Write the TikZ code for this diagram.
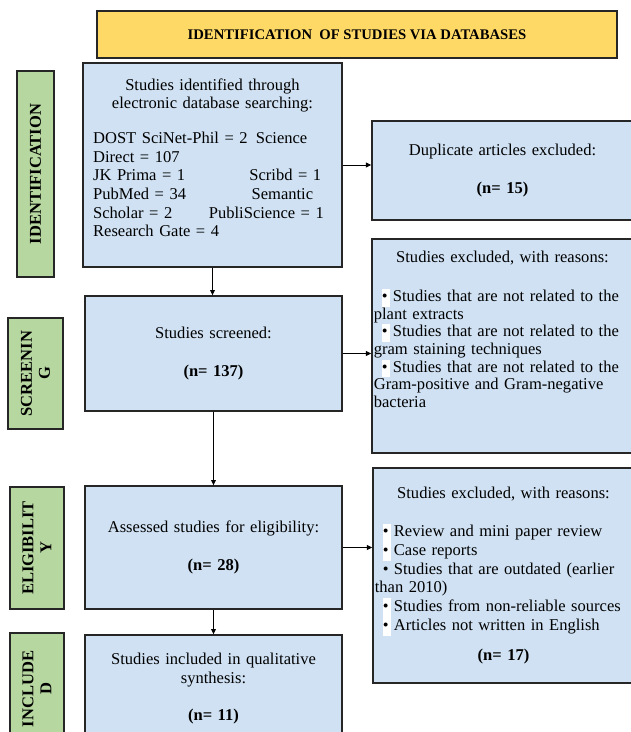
\documentclass[tikz,border=0pt]{standalone}
\usepackage{fontspec}
\setmainfont{Liberation Serif}
\usetikzlibrary{arrows.meta}
\definecolor{boxblue}{HTML}{CFE1F3}
\definecolor{stagegreen}{HTML}{B7D7A0}
\definecolor{headgold}{HTML}{FFD966}
\newcommand{\wbul}{\hspace*{6pt}{\setlength{\fboxsep}{0pt}\colorbox{white}{\strut\textbullet\hspace{1.5pt}}}\hspace{2.5pt}}
\newcommand{\pbul}{\hspace*{6pt}\textbullet\hspace{4pt}}
\newcommand{\tabfill}{\hspace{0pt plus 1filll}}
\begin{document}
\begin{tikzpicture}[x=0.75pt,y=-0.75pt,
  flowbox/.style={draw=black!85,line width=1pt,fill=boxblue,inner ysep=0pt,
    font=\fontsize{12.4}{14}\selectfont},
  stage/.style={draw=black!85,line width=1pt,fill=stagegreen,rotate=90,
    align=center,inner sep=0pt,font=\bfseries\fontsize{12.4}{13.5}\selectfont},
  link/.style={-{Triangle[length=4pt,width=3.6pt]},line width=0.75pt}]
\useasboundingbox (0,0) rectangle (631,732);
\clip (0,0) rectangle (631,732);
% heading
\node[draw=black!85,line width=1pt,fill=headgold,minimum width=390pt,
  minimum height=35.25pt,font=\bfseries\fontsize{11}{13}\selectfont]
  (title) at (357,34.5) {IDENTIFICATION\enspace OF STUDIES VIA DATABASES};
% stage labels
\node[stage,minimum width=154.5pt,minimum height=27.75pt] (identlbl) at (35.5,174) {IDENTIFICATION};
\node[stage,minimum width=83.25pt,minimum height=41.25pt] (screenlbl) at (35.5,373.5) {SCREENIN\\G};
\node[stage,minimum width=91.5pt,minimum height=40.5pt] (eliglbl) at (37,548) {ELIGIBILIT\\Y};
\node[stage,minimum width=84pt,minimum height=40.5pt] (incllbl) at (37,689) {INCLUDE\\D};
% main column
\node[flowbox,text width=179pt,inner xsep=7.5pt,minimum width=194.25pt,minimum height=153pt]
  (search) at (212.5,165) {\centering Studies identified through\\
  electronic database searching:\par\vspace{12pt}\raggedright
  DOST SciNet-Phil = 2\hspace{0.5em}Science\\
  Direct = 107\\
  JK Prima = 1\tabfill Scribd = 1\kern8pt\\
  PubMed = 34\tabfill Semantic\kern14pt\\
  Scholar = 2\tabfill PubliScience = 1\kern6pt\\
  Research Gate = 4\\[-3pt]\mbox{}};
\node[flowbox,align=center,text width=180pt,minimum width=192.75pt,minimum height=86.25pt]
  (screen) at (213.5,353.5) {Studies screened:\\[14pt]\textbf{(n= 137)}};
\node[flowbox,align=center,text width=180pt,minimum width=192.75pt,minimum height=92.25pt]
  (elig) at (213.5,547.5) {Assessed studies for eligibility:\\[14pt]\textbf{(n= 28)}};
\node[flowbox,align=center,text width=180pt,minimum width=192.75pt,minimum height=80.25pt]
  (incl) at (213.5,688.5) {Studies included in qualitative\\synthesis:\\[14pt]\textbf{(n= 11)}};
% exclusions
\node[flowbox,align=center,text width=193pt,inner xsep=1.4pt,minimum width=195.75pt,minimum height=74.25pt]
  (dup) at (502.5,170.5) {Duplicate articles excluded:\\[14pt]\textbf{(n= 15)}};
\node[flowbox,text width=193pt,inner xsep=1.4pt,minimum width=195.75pt,minimum height=160.5pt,
  font=\fontsize{12.4}{13.2}\selectfont]
  (exclscreen) at (502.5,346) {\centering Studies excluded, with reasons:\par\vspace{16pt}\raggedright
  \wbul Studies that are not related to the\\
  plant extracts\\
  \wbul Studies that are not related to the\\
  gram staining techniques\\
  \wbul Studies that are not related to the\\
  Gram-positive and Gram-negative\\
  bacteria\\[12pt]\mbox{}};
\node[flowbox,text width=193pt,inner xsep=1.4pt,minimum width=195.75pt,minimum height=161.25pt]
  (exclelig) at (503.5,575.5) {\centering Studies excluded, with reasons:\par\vspace{14.5pt}\raggedright
  \wbul Review and mini paper review\\
  \wbul Case reports\\
  \pbul Studies that are outdated (earlier\\
  than 2010)\\
  \wbul Studies from non-reliable sources\\
  \wbul Articles not written in English\par\vspace{8.5pt}\centering\textbf{(n= 17)}\par};
% arrows
\draw[link] (search.south) -- (search.south |- screen.north);
\draw[link] (screen.south) -- (elig.north);
\draw[link] (elig.south) -- (incl.north);
\draw[link] (search.east) -- (search.east -| dup.west);
\draw[link] (screen.east) -- (screen.east -| exclscreen.west);
\draw[link] (elig.east) -- (elig.east -| exclelig.west);
\end{tikzpicture}
\end{document}
